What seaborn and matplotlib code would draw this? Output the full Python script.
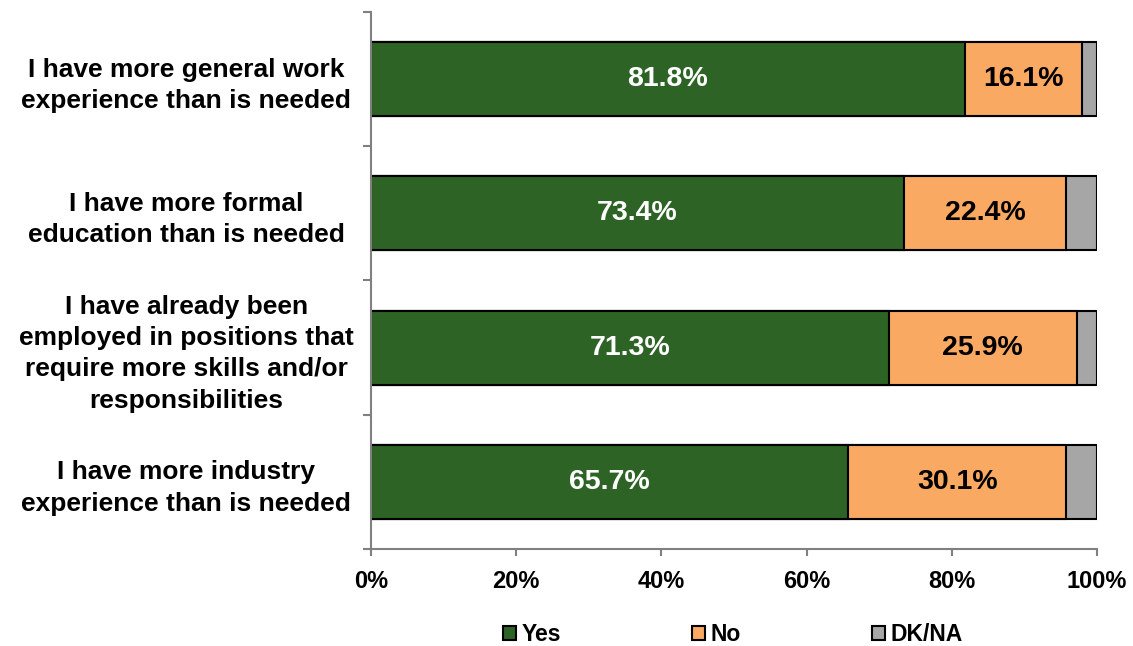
import matplotlib
matplotlib.use("Agg")
import matplotlib.pyplot as plt
from matplotlib.patches import Patch
import seaborn as sns
import pandas as pd

categories = [
    "I have more general work\nexperience than is needed",
    "I have more formal\neducation than is needed",
    "I have already been\nemployed in positions that\nrequire more skills and/or\nresponsibilities",
    "I have more industry\nexperience than is needed",
]
yes = [81.8, 73.4, 71.3, 65.7]
no = [16.1, 22.4, 25.9, 30.1]
dkna = [2.1, 4.2, 2.8, 4.2]
series_names = ["Yes", "No", "DK/NA"]
colors = ["#2E6326", "#F9A962", "#A6A6A6"]
x_ticks = [0, 20, 40, 60, 80, 100]

sns.set_theme(style="white")
plt.rcParams["font.family"] = ["Liberation Sans", "DejaVu Sans"]
plt.rcParams["text.color"] = "black"
plt.rcParams["xtick.labelcolor"] = "black"
plt.rcParams["ytick.labelcolor"] = "black"

df = pd.DataFrame({"cat": categories, "yes": yes, "no": no, "dkna": dkna})
df["yes_no"] = df["yes"] + df["no"]
df["total"] = df["yes_no"] + df["dkna"]

fig = plt.figure(figsize=(11.33, 6.46), dpi=100)
ax = fig.add_axes([0.3274, 0.1502, 0.6408, 0.8312])

# stacked bars drawn back to front: cumulative totals overlaid
for col, color in zip(["total", "yes_no", "yes"], colors[::-1]):
    sns.barplot(data=df, x=col, y="cat", orient="h", color=color,
                edgecolor="black", linewidth=1.5, width=0.55, ax=ax,
                saturation=1)

for i, (y_, n_) in enumerate(zip(yes, no)):
    ax.text(y_ / 2, i, f"{y_:.1f}%", ha="center", va="center",
            color="white", fontsize=20.5, fontweight="bold")
    ax.text(y_ + n_ / 2, i, f"{n_:.1f}%", ha="center", va="center",
            color="black", fontsize=20.5, fontweight="bold")

ax.set_xlim(0, 100)
ax.set_ylim(3.5, -0.5)
ax.set_xlabel("")
ax.set_ylabel("")
ax.set_xticks(x_ticks)
ax.set_xticklabels([f"{t}%" for t in x_ticks], fontsize=17, fontweight="bold")
ax.set_yticks([-0.5, 0.5, 1.5, 2.5, 3.5], minor=False)
ax.set_yticklabels([])
ax.set_yticks([0, 1, 2, 3], minor=True)
ax.set_yticklabels(categories, minor=True, fontsize=19, fontweight="bold",
                   ha="center", linespacing=1.38)
ax.tick_params(axis="y", which="minor", length=0, pad=133)
ax.tick_params(axis="y", which="major", length=6, width=1.5, color="#808080",
               direction="out", left=True)
ax.tick_params(axis="x", length=5, width=1.5, color="#808080",
               direction="out", bottom=True, pad=10)

for side in ["top", "right"]:
    ax.spines[side].set_visible(False)
for side in ["left", "bottom"]:
    ax.spines[side].set_color("#808080")
    ax.spines[side].set_linewidth(1.5)

handles = [Patch(facecolor=c, edgecolor="black", linewidth=1.5, label=n)
           for n, c in zip(series_names, colors)]
fig.legend(handles=handles, loc="center", bbox_to_anchor=(0.647, 0.018),
           ncol=3, frameon=False, handlelength=0.57, handleheight=0.57,
           handletextpad=0.25, columnspacing=5.7,
           prop={"weight": "bold", "size": 16.5})

fig.savefig("out.png", dpi=100)
